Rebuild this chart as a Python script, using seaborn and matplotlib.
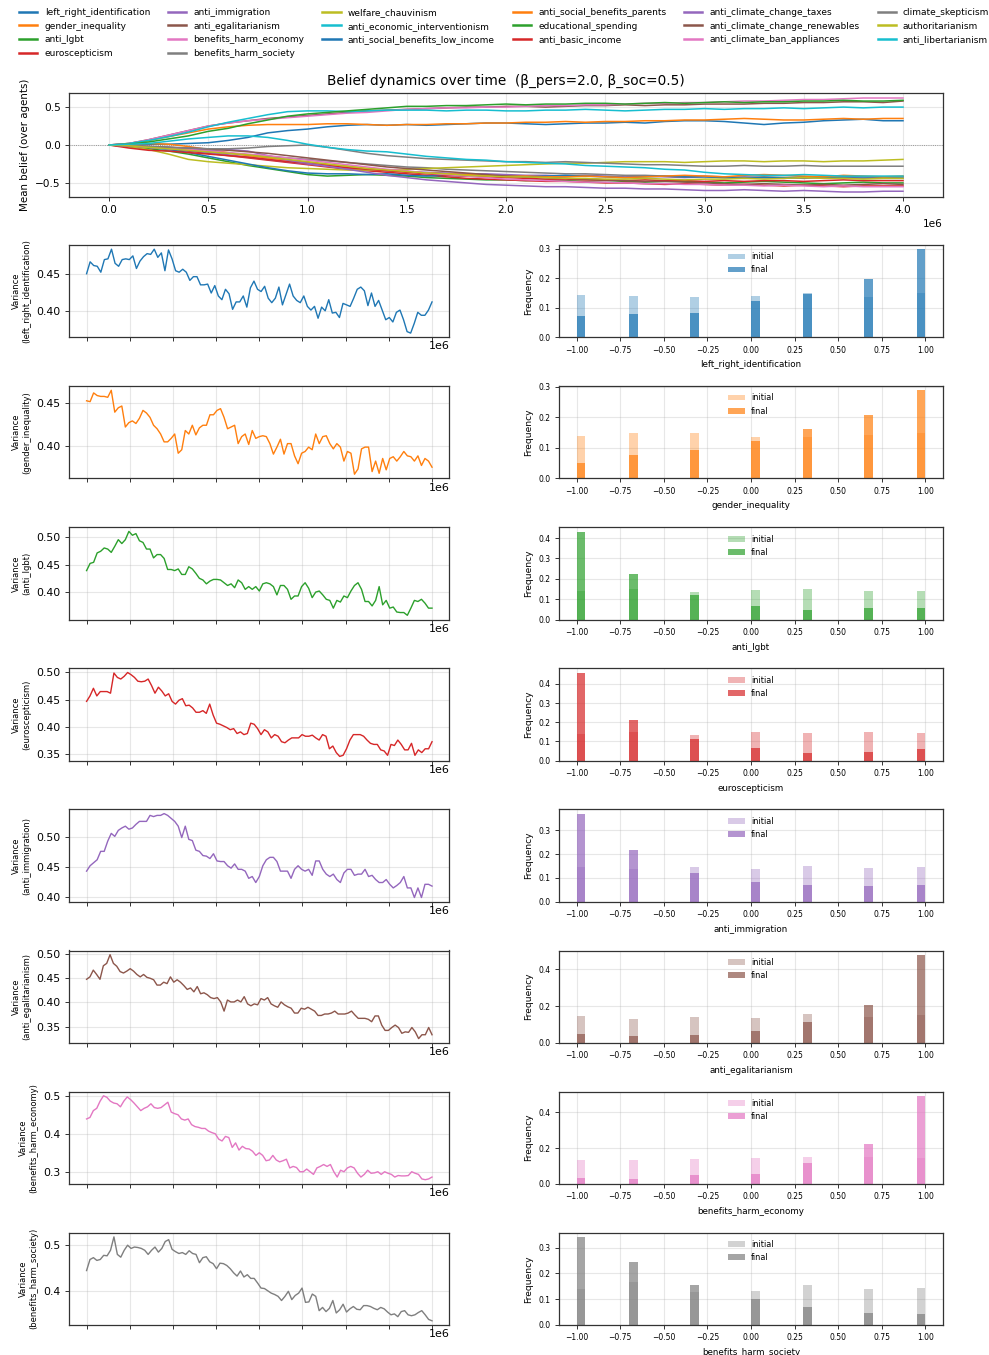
import numpy as np
import pandas as pd
import matplotlib
matplotlib.use("Agg")
import matplotlib.pyplot as plt
from matplotlib.lines import Line2D
from matplotlib.ticker import MultipleLocator, MaxNLocator
import seaborn as sns

T_MAX = 4.0e6

belief_names = [
    "left_right_identification", "gender_inequality", "anti_lgbt", "euroscepticism",
    "anti_immigration", "anti_egalitarianism", "benefits_harm_economy", "benefits_harm_society",
    "welfare_chauvinism", "anti_economic_interventionism", "anti_social_benefits_low_income",
    "anti_social_benefits_parents", "educational_spending", "anti_basic_income",
    "anti_climate_change_taxes", "anti_climate_change_renewables", "anti_climate_ban_appliances",
    "climate_skepticism", "authoritarianism", "anti_libertarianism",
]

# Mean belief over agents, sampled every 1e5 steps (0 .. 4e6)
mean_left_right_identification = [0.00, 0.01, 0.01, 0.01, 0.02, 0.03, 0.06, 0.10, 0.16, 0.19, 0.21, 0.24, 0.26, 0.27, 0.26, 0.27, 0.26, 0.27, 0.28, 0.29, 0.29, 0.28, 0.27, 0.28, 0.29, 0.29, 0.30, 0.29, 0.31, 0.32, 0.32, 0.31, 0.29, 0.27, 0.29, 0.30, 0.32, 0.33, 0.34, 0.32, 0.32]
mean_gender_inequality = [0.00, 0.02, 0.06, 0.11, 0.16, 0.21, 0.24, 0.26, 0.27, 0.27, 0.27, 0.28, 0.28, 0.27, 0.26, 0.27, 0.27, 0.28, 0.28, 0.29, 0.29, 0.30, 0.30, 0.31, 0.30, 0.31, 0.31, 0.32, 0.32, 0.33, 0.33, 0.34, 0.35, 0.34, 0.33, 0.33, 0.34, 0.35, 0.34, 0.35, 0.35]
mean_anti_lgbt = [0.00, -0.02, -0.05, -0.08, -0.12, -0.17, -0.22, -0.27, -0.31, -0.35, -0.39, -0.41, -0.40, -0.39, -0.40, -0.41, -0.43, -0.44, -0.45, -0.46, -0.46, -0.47, -0.46, -0.47, -0.48, -0.47, -0.48, -0.49, -0.48, -0.48, -0.49, -0.50, -0.49, -0.48, -0.49, -0.50, -0.51, -0.50, -0.49, -0.50, -0.50]
mean_euroscepticism = [0.00, -0.01, -0.03, -0.05, -0.08, -0.11, -0.14, -0.17, -0.20, -0.23, -0.26, -0.29, -0.32, -0.34, -0.36, -0.38, -0.40, -0.42, -0.44, -0.45, -0.46, -0.47, -0.48, -0.48, -0.49, -0.50, -0.50, -0.51, -0.52, -0.51, -0.52, -0.53, -0.52, -0.53, -0.54, -0.53, -0.54, -0.55, -0.54, -0.54, -0.54]
mean_anti_immigration = [0.00, -0.01, -0.02, -0.04, -0.07, -0.10, -0.13, -0.16, -0.19, -0.22, -0.25, -0.28, -0.30, -0.32, -0.34, -0.35, -0.36, -0.37, -0.38, -0.38, -0.39, -0.40, -0.40, -0.41, -0.40, -0.41, -0.42, -0.41, -0.42, -0.43, -0.42, -0.43, -0.42, -0.43, -0.44, -0.43, -0.42, -0.43, -0.42, -0.43, -0.42]
mean_anti_egalitarianism = [0.00, 0.02, 0.07, 0.13, 0.19, 0.25, 0.29, 0.32, 0.35, 0.37, 0.39, 0.41, 0.43, 0.45, 0.46, 0.47, 0.48, 0.49, 0.50, 0.50, 0.51, 0.51, 0.50, 0.51, 0.52, 0.52, 0.53, 0.52, 0.53, 0.53, 0.54, 0.54, 0.54, 0.55, 0.55, 0.56, 0.56, 0.57, 0.57, 0.56, 0.58]
mean_benefits_harm_economy = [0.00, 0.02, 0.07, 0.13, 0.19, 0.25, 0.29, 0.32, 0.34, 0.36, 0.38, 0.40, 0.42, 0.43, 0.45, 0.47, 0.48, 0.49, 0.49, 0.50, 0.50, 0.51, 0.52, 0.52, 0.53, 0.53, 0.54, 0.55, 0.55, 0.56, 0.56, 0.57, 0.58, 0.58, 0.59, 0.60, 0.60, 0.61, 0.62, 0.62, 0.62]
mean_benefits_harm_society = [0.00, -0.01, -0.03, -0.05, -0.07, -0.09, -0.11, -0.13, -0.15, -0.17, -0.19, -0.21, -0.23, -0.25, -0.27, -0.29, -0.30, -0.32, -0.33, -0.34, -0.35, -0.36, -0.37, -0.38, -0.38, -0.39, -0.40, -0.40, -0.41, -0.42, -0.41, -0.42, -0.43, -0.42, -0.43, -0.44, -0.43, -0.44, -0.44, -0.44, -0.44]
mean_welfare_chauvinism = [0.00, -0.02, -0.06, -0.12, -0.19, -0.22, -0.24, -0.26, -0.28, -0.30, -0.31, -0.32, -0.33, -0.33, -0.33, -0.32, -0.31, -0.30, -0.29, -0.28, -0.27, -0.26, -0.25, -0.24, -0.24, -0.23, -0.22, -0.22, -0.22, -0.23, -0.22, -0.21, -0.21, -0.22, -0.21, -0.21, -0.22, -0.21, -0.21, -0.20, -0.19]
mean_anti_economic_interventionism = [0.00, 0.02, 0.06, 0.11, 0.17, 0.24, 0.30, 0.35, 0.40, 0.44, 0.45, 0.45, 0.44, 0.45, 0.46, 0.46, 0.46, 0.45, 0.46, 0.46, 0.45, 0.45, 0.46, 0.46, 0.47, 0.46, 0.45, 0.46, 0.47, 0.47, 0.48, 0.47, 0.48, 0.48, 0.49, 0.48, 0.49, 0.50, 0.49, 0.50, 0.50]
mean_anti_social_benefits_low_income = [0.00, -0.01, -0.03, -0.06, -0.10, -0.15, -0.20, -0.25, -0.30, -0.34, -0.37, -0.38, -0.38, -0.39, -0.38, -0.40, -0.41, -0.40, -0.41, -0.42, -0.41, -0.42, -0.41, -0.40, -0.41, -0.42, -0.43, -0.42, -0.41, -0.42, -0.42, -0.43, -0.44, -0.43, -0.43, -0.42, -0.43, -0.42, -0.42, -0.42, -0.42]
mean_anti_social_benefits_parents = [0.00, 0.01, 0.02, 0.01, -0.02, -0.06, -0.10, -0.14, -0.17, -0.20, -0.23, -0.26, -0.28, -0.31, -0.33, -0.35, -0.37, -0.38, -0.39, -0.40, -0.41, -0.41, -0.42, -0.42, -0.41, -0.42, -0.43, -0.42, -0.41, -0.40, -0.41, -0.42, -0.40, -0.39, -0.40, -0.41, -0.42, -0.40, -0.41, -0.42, -0.41]
mean_educational_spending = [0.00, 0.01, 0.04, 0.08, 0.12, 0.18, 0.22, 0.28, 0.33, 0.38, 0.41, 0.43, 0.45, 0.47, 0.49, 0.51, 0.51, 0.52, 0.52, 0.53, 0.54, 0.53, 0.54, 0.54, 0.55, 0.55, 0.54, 0.55, 0.56, 0.55, 0.56, 0.57, 0.56, 0.57, 0.57, 0.58, 0.58, 0.59, 0.58, 0.58, 0.59]
mean_anti_basic_income = [0.00, -0.04, -0.07, -0.08, -0.10, -0.12, -0.14, -0.16, -0.19, -0.22, -0.24, -0.27, -0.30, -0.32, -0.34, -0.36, -0.38, -0.40, -0.41, -0.42, -0.43, -0.44, -0.45, -0.45, -0.46, -0.46, -0.47, -0.46, -0.47, -0.47, -0.48, -0.47, -0.48, -0.47, -0.47, -0.48, -0.47, -0.46, -0.47, -0.47, -0.47]
mean_anti_climate_change_taxes = [0.00, -0.01, -0.02, -0.03, -0.05, -0.07, -0.06, -0.08, -0.14, -0.20, -0.24, -0.28, -0.32, -0.36, -0.40, -0.43, -0.46, -0.48, -0.50, -0.52, -0.53, -0.54, -0.55, -0.55, -0.56, -0.57, -0.57, -0.58, -0.58, -0.59, -0.60, -0.60, -0.59, -0.60, -0.61, -0.60, -0.61, -0.62, -0.62, -0.61, -0.61]
mean_anti_climate_change_renewables = [0.00, -0.01, -0.02, -0.03, -0.04, -0.05, -0.07, -0.09, -0.11, -0.14, -0.17, -0.20, -0.23, -0.26, -0.29, -0.31, -0.33, -0.35, -0.37, -0.39, -0.41, -0.42, -0.43, -0.44, -0.45, -0.46, -0.47, -0.48, -0.48, -0.49, -0.50, -0.51, -0.52, -0.51, -0.52, -0.53, -0.52, -0.53, -0.52, -0.51, -0.52]
mean_anti_climate_ban_appliances = [0.00, -0.01, -0.03, -0.05, -0.06, -0.08, -0.10, -0.12, -0.14, -0.17, -0.20, -0.23, -0.26, -0.29, -0.32, -0.34, -0.37, -0.39, -0.41, -0.43, -0.45, -0.46, -0.47, -0.48, -0.49, -0.49, -0.50, -0.51, -0.51, -0.52, -0.52, -0.53, -0.53, -0.54, -0.53, -0.54, -0.55, -0.54, -0.55, -0.55, -0.55]
mean_climate_skepticism = [0.00, -0.01, -0.02, -0.03, -0.04, -0.05, -0.05, -0.04, -0.02, -0.01, 0.00, -0.03, -0.07, -0.11, -0.14, -0.16, -0.18, -0.19, -0.20, -0.21, -0.22, -0.22, -0.23, -0.22, -0.23, -0.24, -0.25, -0.26, -0.26, -0.27, -0.28, -0.28, -0.27, -0.28, -0.28, -0.27, -0.28, -0.28, -0.28, -0.28, -0.28]
mean_authoritarianism = [0.00, -0.01, -0.03, -0.05, -0.07, -0.09, -0.11, -0.13, -0.16, -0.19, -0.22, -0.25, -0.28, -0.31, -0.33, -0.35, -0.37, -0.38, -0.40, -0.41, -0.42, -0.42, -0.43, -0.44, -0.44, -0.45, -0.45, -0.44, -0.45, -0.46, -0.45, -0.45, -0.44, -0.45, -0.44, -0.43, -0.44, -0.44, -0.45, -0.44, -0.44]
mean_anti_libertarianism = [0.00, 0.01, 0.02, 0.05, 0.08, 0.10, 0.12, 0.12, 0.10, 0.06, 0.01, -0.03, -0.06, -0.08, -0.09, -0.12, -0.15, -0.17, -0.19, -0.20, -0.22, -0.23, -0.24, -0.25, -0.27, -0.28, -0.29, -0.30, -0.32, -0.33, -0.36, -0.38, -0.39, -0.40, -0.40, -0.39, -0.40, -0.41, -0.41, -0.41, -0.41]

mean_series = [
    mean_left_right_identification, mean_gender_inequality, mean_anti_lgbt, mean_euroscepticism,
    mean_anti_immigration, mean_anti_egalitarianism, mean_benefits_harm_economy, mean_benefits_harm_society,
    mean_welfare_chauvinism, mean_anti_economic_interventionism, mean_anti_social_benefits_low_income,
    mean_anti_social_benefits_parents, mean_educational_spending, mean_anti_basic_income,
    mean_anti_climate_change_taxes, mean_anti_climate_change_renewables, mean_anti_climate_ban_appliances,
    mean_climate_skepticism, mean_authoritarianism, mean_anti_libertarianism,
]

# Variance over agents, recorded at evenly spaced steps
var_left_right_identification = [0.450, 0.466, 0.461, 0.460, 0.452, 0.469, 0.470, 0.483, 0.464, 0.460, 0.469, 0.470, 0.469, 0.474, 0.457, 0.467, 0.473, 0.477, 0.476, 0.483, 0.472, 0.478, 0.454, 0.482, 0.470, 0.454, 0.452, 0.456, 0.452, 0.441, 0.446, 0.446, 0.435, 0.435, 0.436, 0.424, 0.434, 0.420, 0.415, 0.429, 0.423, 0.402, 0.412, 0.412, 0.420, 0.405, 0.431, 0.440, 0.429, 0.426, 0.433, 0.417, 0.411, 0.417, 0.432, 0.408, 0.422, 0.436, 0.420, 0.414, 0.411, 0.420, 0.406, 0.401, 0.406, 0.390, 0.405, 0.400, 0.415, 0.397, 0.398, 0.391, 0.410, 0.408, 0.406, 0.417, 0.429, 0.432, 0.427, 0.407, 0.424, 0.406, 0.414, 0.401, 0.388, 0.391, 0.385, 0.398, 0.401, 0.388, 0.372, 0.370, 0.383, 0.398, 0.394, 0.394, 0.401, 0.412]
var_gender_inequality = [0.452, 0.451, 0.461, 0.458, 0.457, 0.457, 0.456, 0.464, 0.439, 0.444, 0.446, 0.422, 0.427, 0.429, 0.426, 0.432, 0.441, 0.438, 0.433, 0.424, 0.420, 0.414, 0.405, 0.405, 0.409, 0.414, 0.392, 0.396, 0.418, 0.414, 0.424, 0.413, 0.421, 0.424, 0.424, 0.436, 0.436, 0.441, 0.443, 0.433, 0.420, 0.422, 0.424, 0.403, 0.411, 0.414, 0.402, 0.418, 0.409, 0.411, 0.412, 0.411, 0.403, 0.391, 0.399, 0.408, 0.391, 0.403, 0.403, 0.389, 0.380, 0.392, 0.394, 0.399, 0.396, 0.414, 0.403, 0.411, 0.412, 0.403, 0.397, 0.403, 0.399, 0.383, 0.394, 0.392, 0.368, 0.374, 0.397, 0.399, 0.399, 0.371, 0.383, 0.369, 0.386, 0.373, 0.386, 0.388, 0.383, 0.388, 0.394, 0.389, 0.388, 0.383, 0.389, 0.378, 0.386, 0.383, 0.376]
var_anti_lgbt = [0.439, 0.452, 0.454, 0.471, 0.474, 0.480, 0.478, 0.472, 0.483, 0.495, 0.488, 0.495, 0.510, 0.503, 0.506, 0.493, 0.490, 0.478, 0.478, 0.462, 0.468, 0.468, 0.461, 0.441, 0.441, 0.439, 0.442, 0.432, 0.432, 0.446, 0.442, 0.434, 0.425, 0.422, 0.415, 0.420, 0.423, 0.423, 0.422, 0.417, 0.412, 0.415, 0.408, 0.422, 0.417, 0.405, 0.410, 0.405, 0.410, 0.402, 0.415, 0.417, 0.415, 0.410, 0.395, 0.412, 0.412, 0.405, 0.387, 0.393, 0.393, 0.410, 0.417, 0.407, 0.390, 0.400, 0.402, 0.395, 0.387, 0.385, 0.371, 0.385, 0.382, 0.393, 0.390, 0.402, 0.412, 0.417, 0.405, 0.383, 0.383, 0.375, 0.385, 0.410, 0.377, 0.385, 0.371, 0.373, 0.364, 0.363, 0.363, 0.358, 0.371, 0.385, 0.383, 0.387, 0.380, 0.371, 0.371]
var_euroscepticism = [0.447, 0.457, 0.471, 0.457, 0.465, 0.465, 0.465, 0.462, 0.499, 0.491, 0.488, 0.493, 0.500, 0.496, 0.491, 0.484, 0.483, 0.484, 0.488, 0.476, 0.462, 0.473, 0.466, 0.457, 0.461, 0.447, 0.442, 0.449, 0.452, 0.439, 0.440, 0.435, 0.427, 0.427, 0.430, 0.425, 0.442, 0.422, 0.407, 0.405, 0.402, 0.399, 0.395, 0.397, 0.388, 0.391, 0.386, 0.388, 0.407, 0.405, 0.397, 0.386, 0.395, 0.391, 0.380, 0.386, 0.383, 0.373, 0.371, 0.376, 0.380, 0.380, 0.380, 0.386, 0.383, 0.383, 0.385, 0.380, 0.376, 0.386, 0.383, 0.360, 0.365, 0.353, 0.346, 0.348, 0.360, 0.376, 0.386, 0.386, 0.386, 0.383, 0.376, 0.370, 0.368, 0.368, 0.358, 0.356, 0.348, 0.368, 0.366, 0.376, 0.368, 0.358, 0.358, 0.370, 0.348, 0.358, 0.353, 0.360, 0.360, 0.373]
var_anti_immigration = [0.443, 0.452, 0.457, 0.462, 0.476, 0.476, 0.493, 0.506, 0.501, 0.511, 0.515, 0.518, 0.513, 0.515, 0.521, 0.526, 0.526, 0.526, 0.536, 0.534, 0.536, 0.536, 0.539, 0.536, 0.531, 0.526, 0.518, 0.499, 0.518, 0.496, 0.494, 0.478, 0.476, 0.469, 0.468, 0.464, 0.472, 0.460, 0.459, 0.459, 0.452, 0.448, 0.455, 0.446, 0.446, 0.443, 0.431, 0.434, 0.424, 0.434, 0.452, 0.462, 0.466, 0.466, 0.459, 0.443, 0.443, 0.443, 0.431, 0.446, 0.452, 0.446, 0.443, 0.446, 0.436, 0.460, 0.460, 0.446, 0.438, 0.434, 0.438, 0.429, 0.424, 0.440, 0.446, 0.446, 0.436, 0.438, 0.438, 0.446, 0.434, 0.436, 0.429, 0.424, 0.424, 0.429, 0.421, 0.415, 0.419, 0.424, 0.434, 0.415, 0.415, 0.399, 0.415, 0.399, 0.421, 0.421, 0.418]
var_anti_egalitarianism = [0.448, 0.453, 0.467, 0.458, 0.448, 0.476, 0.481, 0.499, 0.481, 0.475, 0.464, 0.461, 0.465, 0.470, 0.465, 0.458, 0.453, 0.458, 0.452, 0.450, 0.447, 0.436, 0.436, 0.442, 0.439, 0.453, 0.442, 0.447, 0.442, 0.435, 0.427, 0.430, 0.422, 0.433, 0.418, 0.420, 0.416, 0.410, 0.408, 0.410, 0.401, 0.382, 0.405, 0.401, 0.401, 0.405, 0.401, 0.412, 0.397, 0.393, 0.397, 0.395, 0.408, 0.405, 0.410, 0.397, 0.393, 0.390, 0.401, 0.395, 0.391, 0.388, 0.378, 0.378, 0.388, 0.386, 0.390, 0.386, 0.382, 0.373, 0.373, 0.376, 0.376, 0.378, 0.382, 0.376, 0.376, 0.376, 0.378, 0.382, 0.374, 0.367, 0.367, 0.367, 0.365, 0.360, 0.372, 0.372, 0.353, 0.342, 0.342, 0.348, 0.353, 0.348, 0.336, 0.339, 0.338, 0.348, 0.339, 0.325, 0.333, 0.333, 0.348, 0.333]
var_benefits_harm_economy = [0.439, 0.443, 0.461, 0.467, 0.486, 0.500, 0.496, 0.486, 0.481, 0.479, 0.471, 0.486, 0.497, 0.490, 0.481, 0.471, 0.461, 0.467, 0.471, 0.479, 0.469, 0.467, 0.469, 0.476, 0.483, 0.457, 0.453, 0.450, 0.439, 0.436, 0.439, 0.424, 0.419, 0.417, 0.414, 0.414, 0.407, 0.403, 0.400, 0.386, 0.381, 0.393, 0.390, 0.364, 0.376, 0.357, 0.367, 0.361, 0.360, 0.354, 0.343, 0.350, 0.343, 0.329, 0.331, 0.343, 0.331, 0.326, 0.329, 0.333, 0.310, 0.314, 0.311, 0.300, 0.300, 0.307, 0.300, 0.293, 0.310, 0.314, 0.319, 0.314, 0.319, 0.300, 0.286, 0.304, 0.300, 0.310, 0.314, 0.310, 0.296, 0.286, 0.293, 0.304, 0.296, 0.297, 0.300, 0.293, 0.300, 0.296, 0.293, 0.286, 0.290, 0.289, 0.289, 0.290, 0.300, 0.296, 0.293, 0.281, 0.279, 0.281, 0.286]
var_benefits_harm_society = [0.445, 0.469, 0.473, 0.467, 0.469, 0.478, 0.477, 0.489, 0.518, 0.480, 0.474, 0.489, 0.500, 0.493, 0.496, 0.495, 0.493, 0.489, 0.480, 0.489, 0.496, 0.485, 0.493, 0.508, 0.512, 0.491, 0.486, 0.482, 0.484, 0.480, 0.488, 0.482, 0.480, 0.462, 0.473, 0.475, 0.464, 0.460, 0.449, 0.461, 0.460, 0.456, 0.449, 0.440, 0.433, 0.444, 0.431, 0.436, 0.428, 0.428, 0.418, 0.407, 0.406, 0.401, 0.396, 0.393, 0.389, 0.380, 0.389, 0.400, 0.382, 0.391, 0.396, 0.407, 0.376, 0.377, 0.394, 0.389, 0.358, 0.365, 0.356, 0.363, 0.380, 0.353, 0.360, 0.372, 0.355, 0.362, 0.367, 0.361, 0.360, 0.369, 0.369, 0.367, 0.363, 0.360, 0.365, 0.362, 0.355, 0.349, 0.351, 0.345, 0.356, 0.358, 0.349, 0.347, 0.349, 0.354, 0.358, 0.349, 0.339, 0.336]

var_series = [
    var_left_right_identification, var_gender_inequality, var_anti_lgbt, var_euroscepticism,
    var_anti_immigration, var_anti_egalitarianism, var_benefits_harm_economy, var_benefits_harm_society,
]

# Belief levels of the 7-point scale and the share of agents at each level
levels = [-1.0, -2 / 3, -1 / 3, 0.0, 1 / 3, 2 / 3, 1.0]
init_left_right_identification = [0.144, 0.141, 0.138, 0.141, 0.149, 0.136, 0.151]
final_left_right_identification = [0.073, 0.078, 0.084, 0.122, 0.146, 0.199, 0.298]
init_gender_inequality = [0.140, 0.148, 0.148, 0.136, 0.136, 0.143, 0.149]
final_gender_inequality = [0.051, 0.078, 0.093, 0.121, 0.162, 0.207, 0.288]
init_anti_lgbt = [0.141, 0.150, 0.134, 0.147, 0.149, 0.141, 0.138]
final_anti_lgbt = [0.432, 0.223, 0.120, 0.066, 0.046, 0.058, 0.055]
init_euroscepticism = [0.139, 0.147, 0.135, 0.148, 0.142, 0.147, 0.142]
final_euroscepticism = [0.459, 0.214, 0.115, 0.068, 0.038, 0.043, 0.063]
init_anti_immigration = [0.146, 0.136, 0.146, 0.136, 0.151, 0.140, 0.145]
final_anti_immigration = [0.370, 0.216, 0.122, 0.084, 0.069, 0.067, 0.072]
init_anti_egalitarianism = [0.144, 0.130, 0.140, 0.136, 0.158, 0.143, 0.149]
final_anti_egalitarianism = [0.048, 0.039, 0.044, 0.067, 0.115, 0.208, 0.479]
init_benefits_harm_economy = [0.136, 0.135, 0.141, 0.145, 0.151, 0.149, 0.143]
final_benefits_harm_economy = [0.035, 0.029, 0.049, 0.055, 0.118, 0.223, 0.491]
init_benefits_harm_society = [0.140, 0.165, 0.127, 0.133, 0.155, 0.138, 0.142]
final_benefits_harm_society = [0.341, 0.245, 0.154, 0.099, 0.069, 0.048, 0.044]

hist_initial = [
    init_left_right_identification, init_gender_inequality, init_anti_lgbt, init_euroscepticism,
    init_anti_immigration, init_anti_egalitarianism, init_benefits_harm_economy, init_benefits_harm_society,
]
hist_final = [
    final_left_right_identification, final_gender_inequality, final_anti_lgbt, final_euroscepticism,
    final_anti_immigration, final_anti_egalitarianism, final_benefits_harm_economy, final_benefits_harm_society,
]

base = sns.color_palette("tab10", 10)
colors = [base[i % 10] for i in range(len(belief_names))]

W, H = 989, 1355
fig = plt.figure(figsize=(W / 100, H / 100), dpi=100)


def rect(left, top, width, height):
    return [left / W, 1 - (top + height) / H, width / W, height / H]


def style_axes(ax):
    ax.grid(True, alpha=0.3)
    ax.set_axisbelow(True)
    for sp in ax.spines.values():
        sp.set_color("#333333")
        sp.set_linewidth(0.9)
    ax.tick_params(length=2.6, width=0.7, color="#333333")


# ---- mean beliefs over time ----
ax_top = fig.add_axes(rect(69.3, 93.3, 873.4, 103.4))
frames = []
for name, vals in zip(belief_names, mean_series):
    frames.append(pd.DataFrame({
        "step": np.linspace(0, T_MAX, len(vals)),
        "mean": vals,
        "belief": name,
    }))
df_mean = pd.concat(frames, ignore_index=True)
ax_top.axhline(0, color="gray", lw=0.6, ls=":", zorder=1)
sns.lineplot(data=df_mean, x="step", y="mean", hue="belief", hue_order=belief_names,
             palette=colors, estimator=None, linewidth=1.1, legend=False, ax=ax_top)
style_axes(ax_top)
ax_top.xaxis.set_major_locator(MultipleLocator(5e5))
ax_top.set_xlabel("")
ax_top.set_ylabel("Mean belief (over agents)", fontsize=7.4)
ax_top.set_title("Belief dynamics over time  (β_pers=2.0, β_soc=0.5)", fontsize=9.8)
ax_top.tick_params(labelsize=7.6)
ax_top.xaxis.get_offset_text().set_fontsize(7.6)

handles = [Line2D([], [], color=c, lw=1.8) for c in colors]
fig.legend(handles, belief_names, loc="upper center", bbox_to_anchor=(0.51, 1.0),
           ncol=6, frameon=False, fontsize=6.5)

# ---- per-belief variance and distributions ----
for k, name in enumerate(belief_names[:8]):
    top = 245 + 141.1 * k
    color = colors[k]

    ax_v = fig.add_axes(rect(69.3, top, 380, 92.3))
    vals = var_series[k]
    sns.lineplot(x=np.linspace(0, T_MAX, len(vals)), y=vals, color=color,
                 linewidth=1.0, estimator=None, ax=ax_v)
    style_axes(ax_v)
    ax_v.set_xlim(-0.05 * T_MAX, 1.05 * T_MAX)
    ax_v.xaxis.set_major_locator(MultipleLocator(5e5))
    for lbl in ax_v.get_xticklabels():
        lbl.set_visible(False)
    ax_v.tick_params(axis="y", labelsize=7.8)
    ax_v.xaxis.get_offset_text().set_fontsize(8)
    ax_v.set_ylabel(f"Variance\n({name})", fontsize=6)

    ax_h = fig.add_axes(rect(559.3, top, 383.4, 92.3))
    sns.histplot(x=levels, weights=hist_initial[k], bins=40, binrange=(-1, 1),
                 color=color, alpha=0.35, linewidth=0, label="initial", ax=ax_h)
    sns.histplot(x=levels, weights=hist_final[k], bins=40, binrange=(-1, 1),
                 color=color, alpha=0.7, linewidth=0, label="final", ax=ax_h)
    style_axes(ax_h)
    ax_h.yaxis.set_major_locator(MaxNLocator(nbins=5, steps=[1, 2, 2.5, 5, 10]))
    ax_h.tick_params(labelsize=5.5)
    ax_h.set_ylabel("Frequency", fontsize=6.6)
    ax_h.set_xlabel(name, fontsize=6.3)
    ax_h.legend(loc="upper center", frameon=False, fontsize=5.9)

fig.savefig("out.png", dpi=100)
